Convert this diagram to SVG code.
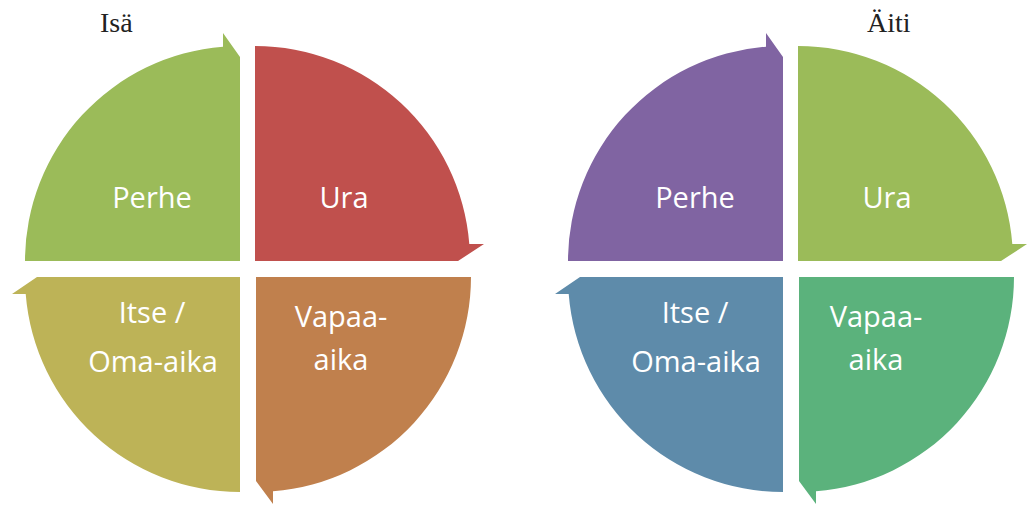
<svg xmlns="http://www.w3.org/2000/svg" width="1029" height="506" viewBox="0 0 1029 506">
<style>
.lbl{font-family:"Open Sans","Liberation Sans",sans-serif;font-size:29px;fill:#ffffff;text-anchor:middle}
.ttl{font-family:"Liberation Serif","Times New Roman",serif;font-size:28px;fill:#222222}
</style>
<rect width="1029" height="506" fill="#ffffff"/>
<g id="isa">
<text class="ttl" x="100" y="32">Isä</text>
<g id="isa-perhe"><path d="M240,261 L25,261 A215,215 0 0 1 223,46.7 L223,33 L240,57 Z" fill="#9BBB59"/><text class="lbl" x="152" y="208">Perhe</text></g>
<g id="isa-ura"><path d="M255,261 L255,46 A215,215 0 0 1 469.3,244 L484,244 L458,261 Z" fill="#C0504D"/><text class="lbl" x="344" y="208">Ura</text></g>
<g id="isa-vapaa"><path d="M256,277 L471,277 A215,215 0 0 1 273,491.3 L273,504 L256,481 Z" fill="#C0804D"/><text class="lbl" x="341" y="327">Vapaa-</text><text class="lbl" x="341" y="370">aika</text></g>
<g id="isa-itse"><path d="M240,277 L240,492 A215,215 0 0 1 25.7,294 L12,294 L37,277 Z" fill="#BDB357"/><text class="lbl" x="152" y="323">Itse /</text><text class="lbl" x="153" y="372">Oma-aika</text></g>
</g>
<g id="aiti" transform="translate(543,0)">
<text class="ttl" x="324" y="32">Äiti</text>
<g id="aiti-perhe"><path d="M240,261 L25,261 A215,215 0 0 1 223,46.7 L223,33 L240,57 Z" fill="#8064A2"/><text class="lbl" x="152" y="208">Perhe</text></g>
<g id="aiti-ura"><path d="M255,261 L255,46 A215,215 0 0 1 469.3,244 L484,244 L458,261 Z" fill="#9BBB59"/><text class="lbl" x="344" y="208">Ura</text></g>
<g id="aiti-vapaa"><path d="M256,277 L471,277 A215,215 0 0 1 273,491.3 L273,504 L256,481 Z" fill="#5BB27C"/><text class="lbl" x="333" y="327">Vapaa-</text><text class="lbl" x="333" y="370">aika</text></g>
<g id="aiti-itse"><path d="M240,277 L240,492 A215,215 0 0 1 25.7,294 L12,294 L37,277 Z" fill="#5E8BAA"/><text class="lbl" x="152" y="323">Itse /</text><text class="lbl" x="153" y="372">Oma-aika</text></g>
</g>
<g id="connectors"></g>
</svg>
